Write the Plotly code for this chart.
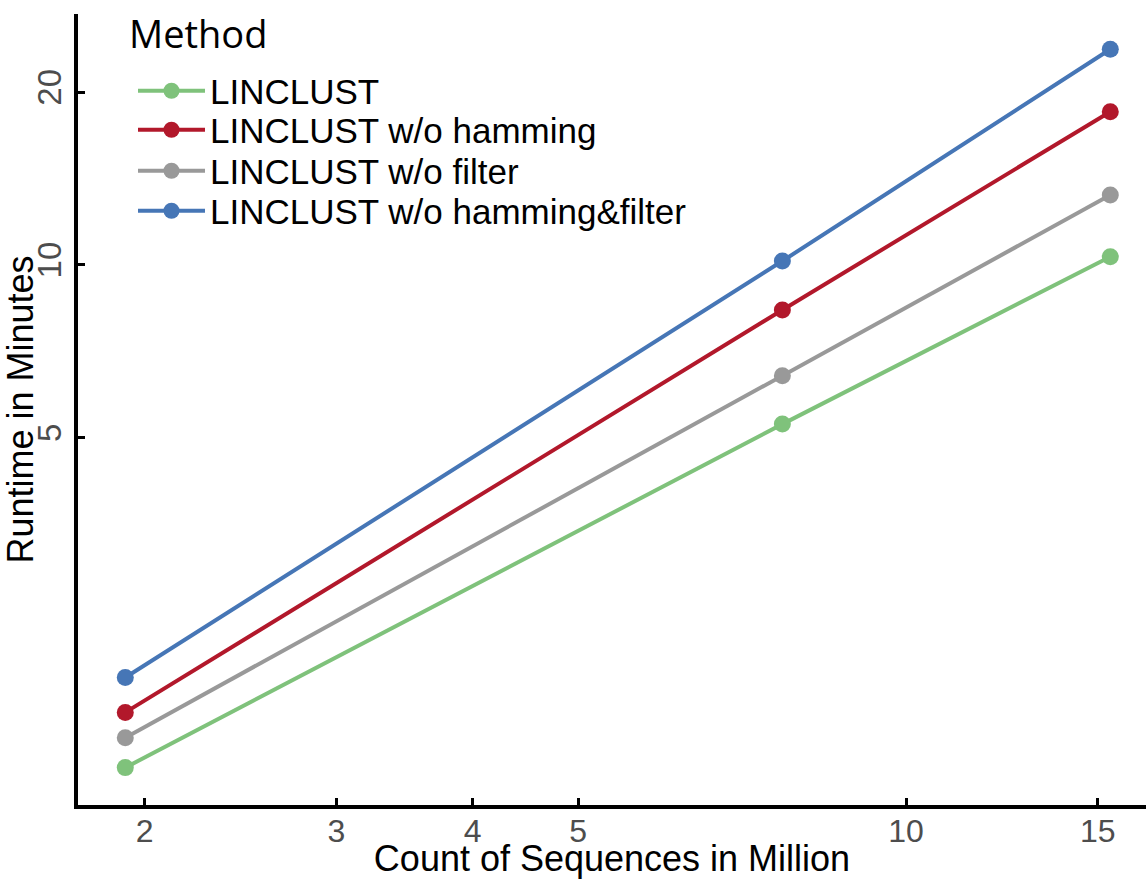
import plotly.graph_objects as go

# ---- data ----
sequences_million = [1.92, 7.7, 15.4]
method_names = ["LINCLUST", "LINCLUST w/o hamming", "LINCLUST w/o filter",
                "LINCLUST w/o hamming&filter"]
runtime_linclust = [1.33, 5.28, 10.34]
runtime_no_hamming = [1.66, 8.35, 18.5]
runtime_no_filter = [1.50, 6.41, 13.24]
runtime_no_hamming_filter = [1.91, 10.16, 23.77]
x_tickvals = [2, 3, 4, 5, 10, 15]
y_tickvals = [5, 10, 20]

# ---- styling ----
colors = ["#7fc27b", "#b2182b", "#999999", "#4676b6"]
W, H = 1146, 879
ML, MR, MT, MB = 78, 0, 14, 74
PW, PH = W - ML - MR, H - MT - MB


def px_to_paper_x(px):
    return (px - ML) / PW


def px_to_paper_y(py):
    return (H - MB - py) / PH


series = [runtime_linclust, runtime_no_hamming, runtime_no_filter, runtime_no_hamming_filter]
legend_ids = ["legend", "legend2", "legend3", "legend4"]
legend_rows_px = [91, 130, 171, 211]

fig = go.Figure()
for name, vals, col, lid in zip(method_names, series, colors, legend_ids):
    fig.add_trace(go.Scatter(
        x=sequences_million, y=vals, name=name, mode="lines+markers",
        line=dict(color=col, width=4),
        marker=dict(color=col, size=17),
        legend=lid,
    ))

text_font = "Liberation Sans, Arial, sans-serif"
legend_common = dict(
    font=dict(family=text_font, size=35, color="black"),
    bgcolor="rgba(0,0,0,0)", borderwidth=0,
    itemwidth=67, xanchor="left", yanchor="middle",
    x=px_to_paper_x(133),
)
layout_legends = {}
for lid, py in zip(legend_ids, legend_rows_px):
    layout_legends[lid] = dict(legend_common, y=px_to_paper_y(py))

fig.update_layout(
    width=W, height=H,
    margin=dict(l=ML, r=MR, t=MT, b=MB, autoexpand=False),
    paper_bgcolor="white", plot_bgcolor="white",
    font=dict(family=text_font, color="black"),
    showlegend=True,
    **layout_legends,
    xaxis=dict(
        type="log", range=[0.2399, 1.2203], automargin=False,
        tickvals=x_tickvals, ticktext=[str(v) for v in x_tickvals],
        ticks="inside", ticklen=7, tickwidth=3, tickcolor="black",
        ticklabelstandoff=-5,
        showline=True, linewidth=3.5, linecolor="black",
        showgrid=False, zeroline=False,
        tickfont=dict(family=text_font, size=32, color="#4d4d4d"),
        title=dict(text="Count of Sequences in Million",
                   font=dict(family=text_font, size=36, color="black")),
    ),
    yaxis=dict(
        type="log", range=[0.0587, 1.4375], automargin=False,
        tickvals=y_tickvals, ticktext=[str(v) for v in y_tickvals],
        tickangle=-90,
        ticks="inside", ticklen=7, tickwidth=3, tickcolor="black",
        showline=True, linewidth=3.5, linecolor="black",
        showgrid=False, zeroline=False,
        tickfont=dict(family=text_font, size=33, color="#4d4d4d"),
        title=dict(text="Runtime in Minutes",
                   font=dict(family=text_font, size=36, color="black"),
                   standoff=0),
    ),
    annotations=[dict(
        text="Method", xref="paper", yref="paper",
        x=px_to_paper_x(127), y=px_to_paper_y(33),
        xanchor="left", yanchor="middle", showarrow=False,
        font=dict(family="Open Sans, sans-serif", size=38, color="black"),
    )],
)

fig.write_html("out.html")
